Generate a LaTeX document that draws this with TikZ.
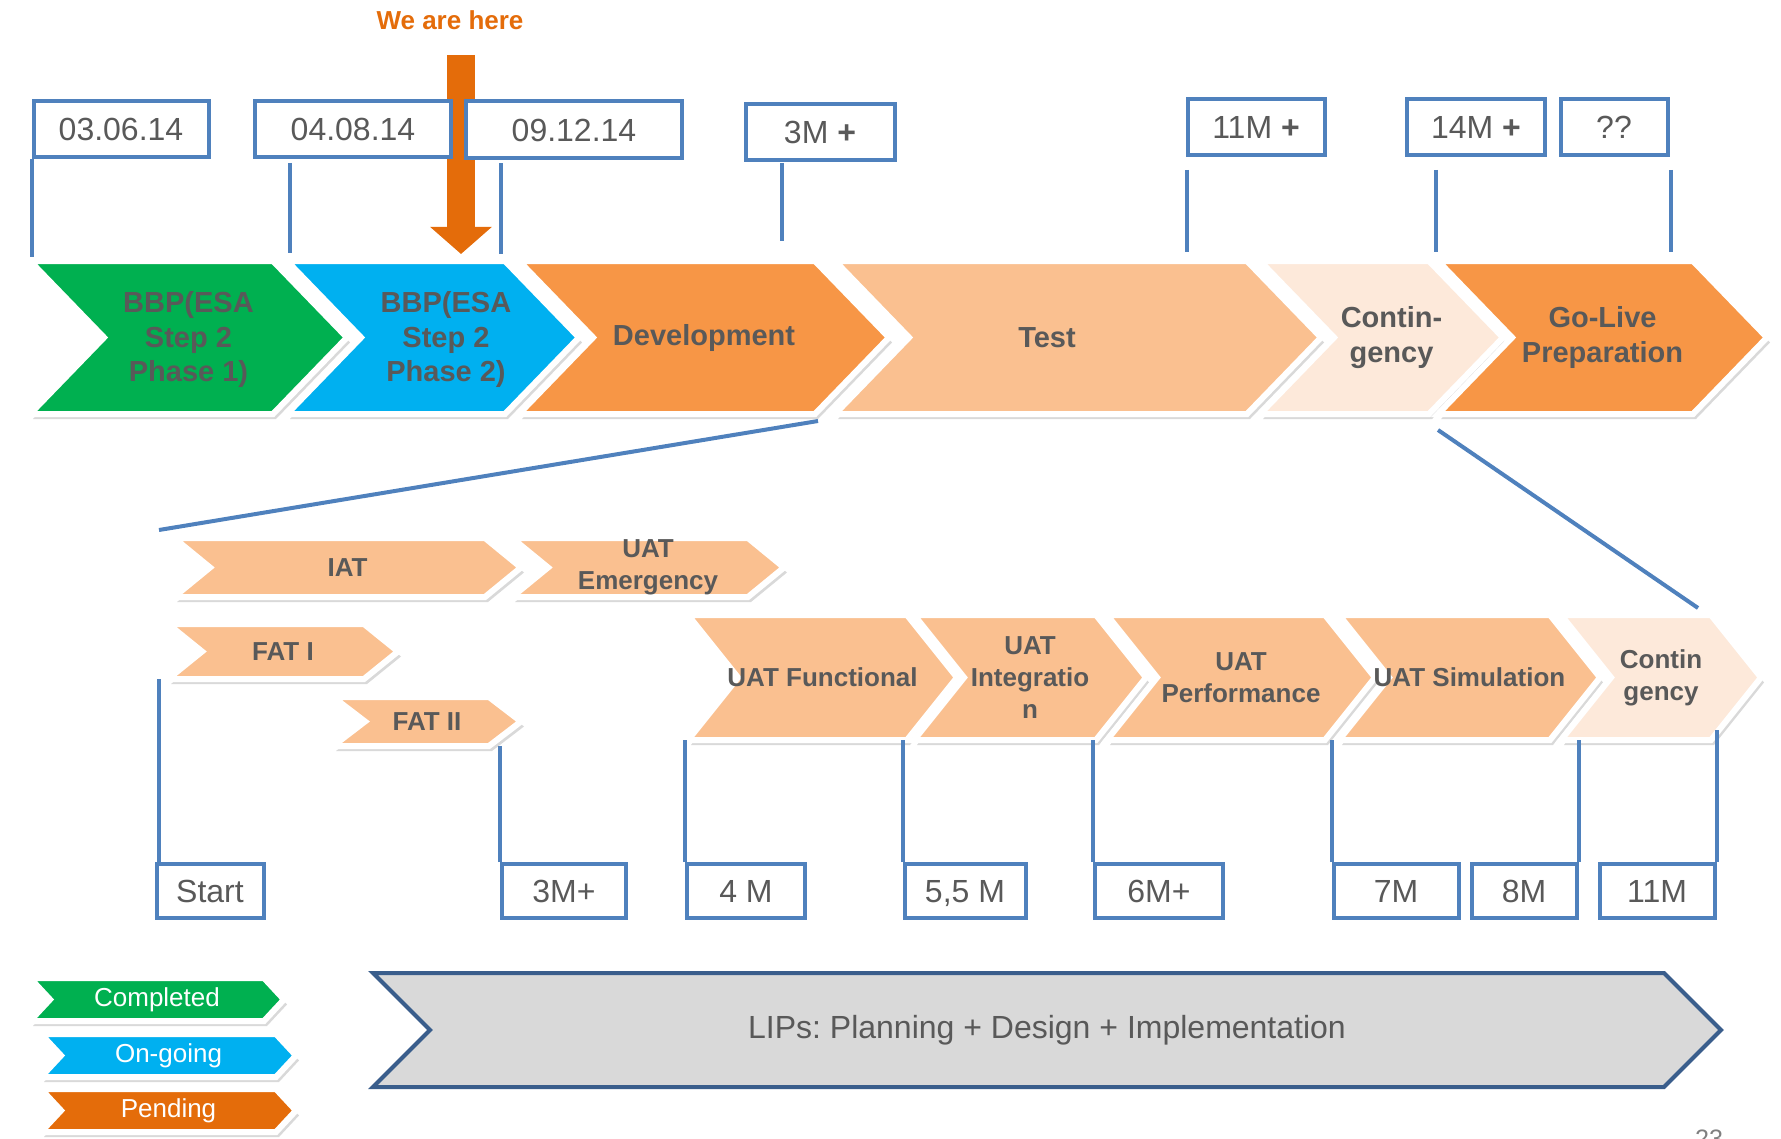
\documentclass[tikz,border=0pt]{standalone}
\usepackage{fontspec}
\setmainfont{Liberation Sans}
\usetikzlibrary{calc}
\usetikzlibrary{arrows.meta}
\usetikzlibrary{shadows}
\frenchspacing

\definecolor{done}{HTML}{00B050}
\definecolor{going}{HTML}{00B0F0}
\definecolor{todo}{HTML}{F79646}
\definecolor{pend}{HTML}{E46C0A}
\definecolor{light}{HTML}{FAC090}
\definecolor{pale}{HTML}{FDE9DA}
\definecolor{boxblue}{HTML}{4F81BD}
\definecolor{lipsblue}{HTML}{3A5E8C}
\definecolor{lipsgray}{HTML}{D9D9D9}
\definecolor{txt}{HTML}{595959}

\tikzset{
chev/.style={draw=white, line width=3pt, drop shadow={shadow xshift=1.5pt, shadow yshift=-2.5pt, opacity=0.3}},
lipsbox/.style={draw=lipsblue, line width=2pt, fill=lipsgray},
bigtext/.style={text=txt, align=center, font=\bfseries\fontsize{14.5}{17.3}\selectfont},
smalltext/.style={text=txt, align=center, font=\bfseries\fontsize{13}{16}\selectfont},
keytext/.style={text=white, font=\fontsize{13}{15}\selectfont},
lipstext/.style={text=txt, font=\fontsize{16}{19}\selectfont},
datebox/.style={draw=boxblue, line width=2pt, fill=white, text=txt, inner sep=0pt, text height=11.5pt, text depth=0pt, font=\fontsize{16}{19}\selectfont},
tick/.style={boxblue, line width=2pt},
nowarrow/.style={draw=pend, line width=14pt, -{Triangle[width=30pt, length=13.5pt]}},
}

% name, left x, right x, top y, bottom y, depth, shape style, text style, text
\newcommand{\chevron}[9]{%
\coordinate (#1-tl) at (#2,#4); \coordinate (#1-tr) at (#3,#4);
\coordinate (#1-bl) at (#2,#5); \coordinate (#1-br) at (#3,#5);
\path[#7] (#1-tl) -- (#1-tr) -- ($(#1-tr)!0.5!(#1-br)+(#6,0)$) -- (#1-br) -- (#1-bl) -- ($(#1-tl)!0.5!(#1-bl)+(#6,0)$) -- cycle;
\node[#8] (#1) at ($(#1-tl)!0.5!(#1-br)+(#6/2,0)$) {#9};
}

\begin{document}
\begin{tikzpicture}[x=0.5pt, y=-0.5pt]
\useasboundingbox (0,0) rectangle (1781,1139);

\node [text=pend, font=\bfseries\fontsize{13}{15}\selectfont] (here) at (450,20) {We are here};
\coordinate (shaft) at (461,55); \coordinate (now) at (461,254);
\draw[nowarrow] (shaft) -- (now);

\node[datebox, minimum width=87.5pt, minimum height=28pt] (d1) at (121,129) {03.06.14};
\node[datebox, minimum width=98pt, minimum height=28pt] (d2) at (353,129) {04.08.14};
\node[datebox, minimum width=108pt, minimum height=28.5pt] (d3) at (574,130) {09.12.14};
\node[datebox, minimum width=74.5pt, minimum height=28pt] (d4) at (820,132) {3M \textbf{+}};
\node[datebox, minimum width=68.5pt, minimum height=28pt] (d5) at (1256,127) {11M \textbf{+}};
\node[datebox, minimum width=69pt, minimum height=28pt] (d6) at (1476,127) {14M \textbf{+}};
\node[datebox, minimum width=53.5pt, minimum height=28pt] (d7) at (1614,127) {??};

\draw[tick] (d1.south west) -- +(0,98);
\draw[tick] ($(d2.south west)+(37,4)$) -- +(0,90);
\draw[tick] ($(d3.south west)+(37,3)$) -- +(0,90);
\draw[tick] ($(d4.south west)+(38,1)$) -- +(0,78);
\draw[tick] ($(d5.south west)+(1,13)$) -- +(0,82);
\draw[tick] ($(d6.south west)+(31,13)$) -- +(0,82);
\draw[tick] ($(d7.south east)+(1,13)$) -- +(0,82);

\chevron{bbp1}{30}{273}{261}{414}{74}{chev, fill=done}{bigtext, yshift=-1pt}{BBP(ESA\\Step 2\\Phase 1)}
\chevron{bbp2}{287}{505}{261}{414}{74}{chev, fill=going}{bigtext, xshift=6.5pt, yshift=-1pt}{BBP(ESA\\Step 2\\Phase 2)}
\chevron{dev}{519}{815}{261}{414}{74}{chev, fill=todo}{bigtext}{Development}
\chevron{test}{835}{1247}{261}{414}{74}{chev, fill=light}{bigtext, xshift=-15.5pt}{Test}
\chevron{cont}{1260}{1429}{261}{414}{74}{chev, fill=pale}{bigtext, xshift=5pt}{Contin-\\gency}
\chevron{live}{1438}{1693}{261}{414}{74}{chev, fill=todo}{bigtext}{Go-Live\\Preparation}

\chevron{iat}{174}{485}{538}{597}{36}{chev, fill=light}{smalltext}{IAT}
\chevron{emer}{512}{748}{538}{597}{36}{chev, fill=light}{smalltext}{UAT\\Emergency}
\chevron{fat1}{168}{364}{624}{679}{34}{chev, fill=light}{smalltext}{FAT I}
\chevron{fat2}{333}{489}{697}{746}{32}{chev, fill=light}{smalltext}{FAT II}

\chevron{func}{688}{907}{615}{740}{50}{chev, fill=light}{smalltext}{UAT Functional}
\chevron{integ}{914}{1096}{615}{740}{50}{chev, fill=light}{smalltext}{UAT\\Integratio\\n}
\chevron{perf}{1107}{1325}{615}{740}{50}{chev, fill=light}{smalltext}{UAT\\Performance}
\chevron{sim}{1339}{1550}{615}{740}{50}{chev, fill=light}{smalltext}{UAT Simulation}
\chevron{spare}{1561}{1711}{615}{740}{50}{chev, fill=pale}{smalltext}{Contin\\gency}

\draw[tick] ($(dev-br)+(3,7)$) -- ($(iat-tl)+(-15,-8)$);
\draw[tick] ($(live-bl)+(0,16)$) -- ($(spare-tr)+(-13,-7)$);

\node[datebox, minimum width=53.5pt, minimum height=27pt] (m1) at (210,891) {Start};
\node[datebox, minimum width=62pt, minimum height=27pt] (m2) at (564,891) {3M+};
\node[datebox, minimum width=59pt, minimum height=27pt] (m3) at (746,891) {4 M};
\node[datebox, minimum width=60.5pt, minimum height=27pt] (m4) at (965,891) {5,5 M};
\node[datebox, minimum width=64pt, minimum height=27pt] (m5) at (1159,891) {6M+};
\node[datebox, minimum width=62.5pt, minimum height=27pt] (m6) at (1396,891) {7M};
\node[datebox, minimum width=52.5pt, minimum height=27pt] (m7) at (1524,891) {8M};
\node[datebox, minimum width=57.5pt, minimum height=27pt] (m8) at (1657,891) {11M};

\coordinate (startfoot) at ($(m1.north west)+(4,0)$);
\draw[tick] (startfoot) -- (startfoot |- fat1-bl);
\draw[tick] (m2.north west) -- (m2.north west |- fat2-br);
\draw[tick] (m3.north west) -- (m3.north west |- func-bl);
\draw[tick] (m4.north west) -- (m4.north west |- func-bl);
\draw[tick] (m5.north west) -- (m5.north west |- func-bl);
\draw[tick] (m6.north west) -- (m6.north west |- func-bl);
\draw[tick] (m7.north east) -- (m7.north east |- func-bl);
\draw[tick] (m8.north east) -- ++(0,-132);

\chevron{kdone}{30}{264}{978}{1021}{20}{chev, fill=done}{keytext}{Completed}
\chevron{kgoing}{41}{276}{1034}{1077}{20}{chev, fill=going}{keytext}{On-going}
\chevron{kpend}{41}{276}{1089}{1132}{20}{chev, fill=pend}{keytext}{Pending}

\chevron{lips}{373}{1664}{973}{1087}{57}{lipsbox}{lipstext}{LIPs: Planning + Design + Implementation}

\node[anchor=north, inner sep=0pt, text=gray, font=\fontsize{12.6}{15}\selectfont] (page) at (1709,1129) {23};

\end{tikzpicture}
\end{document}
